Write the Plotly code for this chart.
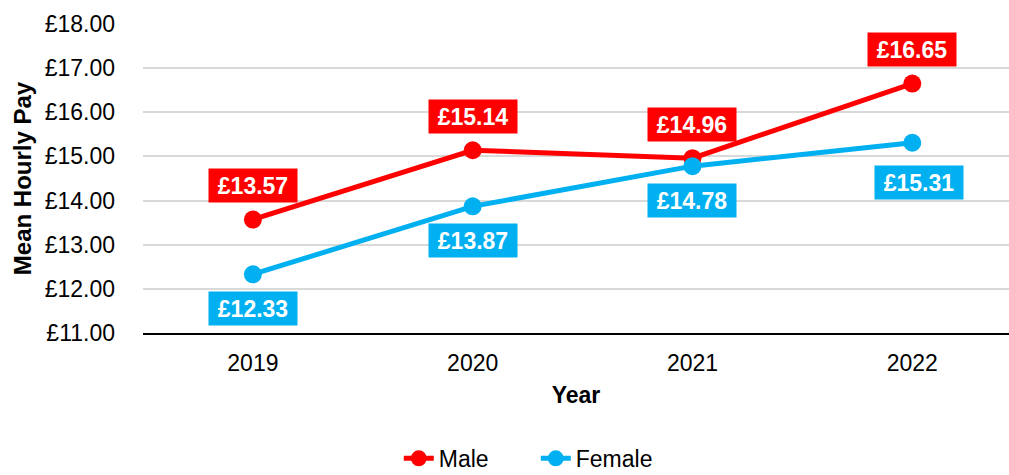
import plotly.graph_objects as go

years = ["2019", "2020", "2021", "2022"]
male = [13.57, 15.14, 14.96, 16.65]
female = [12.33, 13.87, 14.78, 15.31]
male_labels = ["£13.57", "£15.14", "£14.96", "£16.65"]
female_labels = ["£12.33", "£13.87", "£14.78", "£15.31"]
y_ticks = [11, 12, 13, 14, 15, 16, 17, 18]
y_tick_text = ["£11.00", "£12.00", "£13.00", "£14.00", "£15.00", "£16.00", "£17.00", "£18.00"]

RED = "#FF0000"
BLUE = "#00B0F0"
FONT = "Liberation Sans, Arial, sans-serif"
FS = 23

fig = go.Figure()
fig.add_trace(go.Scatter(x=years, y=male, name="Male", mode="lines+markers",
                         line=dict(color=RED, width=5), marker=dict(size=18, color=RED)))
fig.add_trace(go.Scatter(x=years, y=female, name="Female", mode="lines+markers",
                         line=dict(color=BLUE, width=5), marker=dict(size=18, color=BLUE)))

for i, (v, t) in enumerate(zip(male, male_labels)):
    fig.add_annotation(x=i, y=v, xref="x", yref="y", text="<b>%s</b>" % t,
                       showarrow=False, yshift=34, bgcolor=RED,
                       font=dict(color="white", size=FS, family=FONT),
                       width=84, height=29, borderpad=2, align="center")
for i, (v, t) in enumerate(zip(female, female_labels)):
    fig.add_annotation(x=i, y=v, xref="x", yref="y", text="<b>%s</b>" % t,
                       showarrow=False, yshift=-40 if i == 3 else -34,
                       xshift=7 if i == 3 else 0, bgcolor=BLUE,
                       font=dict(color="white", size=FS, family=FONT),
                       width=84, height=29, borderpad=2, align="center")

fig.update_layout(
    width=1009, height=475, autosize=False,
    margin=dict(l=143, r=0, t=24, b=142, autoexpand=False),
    paper_bgcolor="white", plot_bgcolor="white",
    font=dict(family=FONT, color="black", size=FS),
    showlegend=True,
    legend=dict(orientation="h", xref="container", yref="container",
                x=0.531, xanchor="center", y=0.035, yanchor="middle",
                entrywidth=92, entrywidthmode="pixels",
                font=dict(size=FS), traceorder="normal"),
    xaxis=dict(type="category", range=[-0.5, 3.44], showgrid=False,
               showline=True, linecolor="black", linewidth=2, ticks="",
               tickfont=dict(size=FS), automargin=False, ticklabelstandoff=8,
               title=dict(text="<b>Year</b>", font=dict(size=FS), standoff=12)),
    yaxis=dict(range=[11, 18], tickvals=y_ticks, ticktext=y_tick_text,
               showgrid=True, gridcolor="#D9D9D9", gridwidth=2, automargin=False,
               zeroline=False, showline=False, ticks="", ticklabelstandoff=27,
               tickfont=dict(size=FS),
               title=dict(text="<b>Mean Hourly Pay</b>", font=dict(size=24), standoff=6)),
)

fig.write_html("out.html", config={"displayModeBar": False},
               post_script="document.body.style.margin='0';document.body.style.overflow='hidden';")
